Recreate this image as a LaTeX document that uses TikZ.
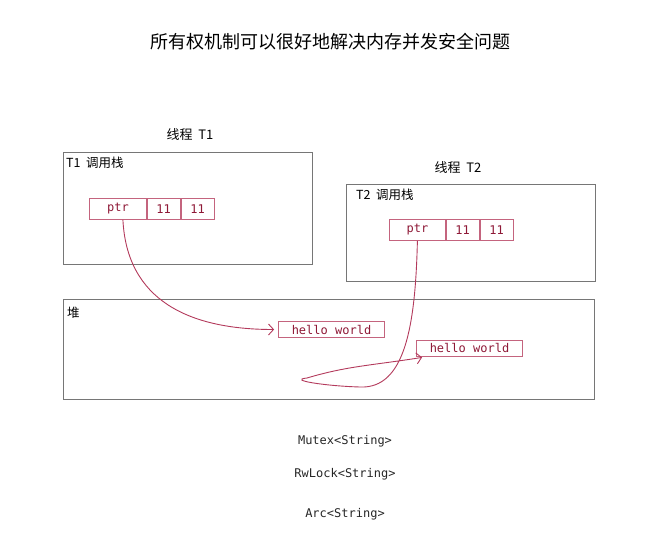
\documentclass[tikz,border=0pt]{standalone}
\usepackage{fontspec}
\setmainfont{Noto Sans CJK SC}
\newfontfamily\codefont{DejaVu Sans Mono}
\usetikzlibrary{positioning,arrows.meta}

\definecolor{framegray}{HTML}{767676}
\definecolor{cellred}{HTML}{C4647E}
\definecolor{codered}{HTML}{8E1836}
\definecolor{arrowred}{HTML}{B33A5C}

\tikzset{
  frame/.style={draw=framegray, line width=0.9pt, anchor=north west, inner sep=0pt},
  framelabel/.style={anchor=west, inner sep=0pt, font=\fontsize{12.5}{12.5}\selectfont},
  threadlabel/.style={inner sep=0pt, font=\fontsize{13}{13}\selectfont},
  cell/.style={draw=cellred, line width=0.8pt, text=codered, inner sep=0pt,
    minimum height=21, font=\codefont\fontsize{12}{12}\selectfont},
  heapcell/.style={cell, minimum width=106, minimum height=16},
  typelabel/.style={inner sep=0pt, text=black!85, font=\codefont\fontsize{12}{12}\selectfont},
  pointer/.style={draw=arrowred, line width=0.9pt, -{Straight Barb[length=5pt,width=11pt]}}
}

\begin{document}
\begin{tikzpicture}[x=1pt, y=-1pt, node distance=0pt]
  \useasboundingbox (0,0) rectangle (647,554);

  \node[inner sep=0pt, font=\fontsize{18}{18}\selectfont] (title) at (330,42)
    {所有权机制可以很好地解决内存并发安全问题};

  % thread 1
  \node[frame, minimum width=249, minimum height=112] (t1stack) at (63,152) {};
  \node[threadlabel, above=11pt of t1stack.north, xshift=2pt] (t1title) {线程\ \ T1};
  \node[framelabel] (t1lbl) at ([xshift=3pt,yshift=-11pt]t1stack.north west) {T1\ \ 调用栈};
  \node[cell, anchor=north west, minimum width=57] (t1ptr) at (89,198) {ptr};
  \node[cell, minimum width=33, right=of t1ptr] (t1a) {11};
  \node[cell, minimum width=33, right=of t1a] (t1b) {11};

  % thread 2
  \node[frame, minimum width=249, minimum height=97] (t2stack) at (346,184) {};
  \node[threadlabel, above=10pt of t2stack.north, xshift=-13pt] (t2title) {线程\ \ T2};
  \node[framelabel] (t2lbl) at ([xshift=10pt,yshift=-11pt]t2stack.north west) {T2\ \ 调用栈};
  \node[cell, anchor=north west, minimum width=56] (t2ptr) at (389,219) {ptr};
  \node[cell, minimum width=33, right=of t2ptr] (t2a) {11};
  \node[cell, minimum width=33, right=of t2a] (t2b) {11};

  % heap
  \node[frame, minimum width=531, minimum height=100] (heap) at (63,299) {};
  \node[framelabel] (heaplbl) at ([xshift=4pt,yshift=-14pt]heap.north west) {堆};
  \node[heapcell] (hello1) at (331.5,329.5) {hello world};
  \node[heapcell] (hello2) at (469.5,348) {hello world};

  % pointers
  \draw[pointer, shorten >=4pt] ([xshift=5pt]t1ptr.south)
    .. controls +(4,80) and +(-90,0) .. (hello1.west);
  \draw[pointer] (t2ptr.south)
    .. controls +(-2,85) and +(45,2) .. (360,387)
    .. controls +(-35,-1) and +(-20,2) .. (307,378)
    .. controls +(40,-12) and +(-50,8) .. ([xshift=6pt,yshift=-1pt]hello2.south west);

  % types
  \node[typelabel] (mutex) at (345,441) {Mutex<String>};
  \node[typelabel] (rwlock) at (345,474) {RwLock<String>};
  \node[typelabel] (arc) at (345,514) {Arc<String>};
\end{tikzpicture}
\end{document}
